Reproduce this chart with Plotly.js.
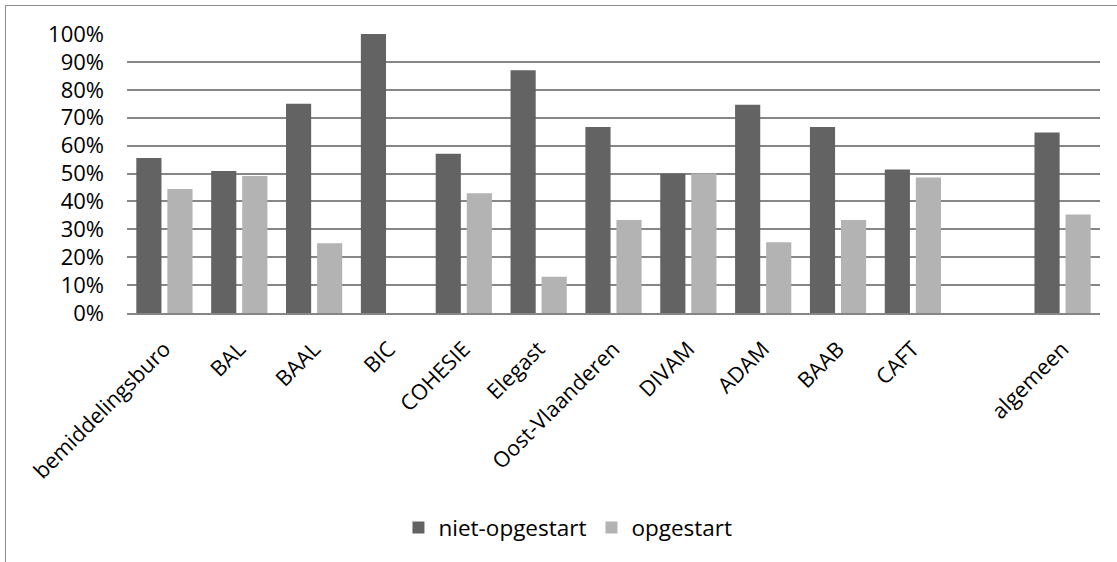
<!DOCTYPE html>
<html>
<head>
<meta charset="utf-8">
<script src="https://cdn.plot.ly/plotly-3.0.1.min.js"></script>
<style>
  html, body { margin: 0; padding: 0; background: #fff; overflow: hidden; }
  #frame { position: absolute; left: 5px; top: 5px; width: 1200px; height: 700px;
           border-left: 1.5px solid #8c8c8c; border-top: 1.5px solid #8c8c8c; }
  #chart { position: absolute; left: 0; top: 0; width: 1117px; height: 562px; }
</style>
</head>
<body>
<div id="frame"></div>
<div id="chart"></div>
<script>
const categories = ["bemiddelingsburo", "BAL", "BAAL", "BIC", "COHESIE", "Elegast",
  "Oost-Vlaanderen", "DIVAM", "ADAM", "BAAB", "CAFT", " ", "algemeen"];
const nietOpgestart = [0.556, 0.509, 0.75, 1.0, 0.571, 0.87, 0.667, 0.50, 0.746, 0.667, 0.514, null, 0.647];
const opgestart = [0.444, 0.491, 0.25, 0.0, 0.429, 0.13, 0.333, 0.50, 0.254, 0.333, 0.486, null, 0.353];
const seriesNames = ["niet-opgestart", "opgestart"];
const yTicks = [0, 0.1, 0.2, 0.3, 0.4, 0.5, 0.6, 0.7, 0.8, 0.9, 1.0];
const yTickLabels = ["0%", "10%", "20%", "30%", "40%", "50%", "60%", "70%", "80%", "90%", "100%"];

const font = "Open Sans, Lato, sans-serif";

const traces = [
  { type: "bar", name: seriesNames[0], x: categories, y: nietOpgestart,
    marker: { color: "#636363" }, hoverinfo: "skip" },
  { type: "bar", name: seriesNames[1], x: categories, y: opgestart,
    marker: { color: "#b3b3b3" }, hoverinfo: "skip" }
];

const layout = {
  width: 1117, height: 562,
  margin: { l: 127, r: 17, t: 34, b: 249 },
  paper_bgcolor: "rgba(0,0,0,0)",
  plot_bgcolor: "rgba(0,0,0,0)",
  barmode: "group",
  bargap: 0.17,
  bargroupgap: 0.19,
  showlegend: true,
  legend: { orientation: "h", x: 0.279, xanchor: "left", y: -0.77, yanchor: "middle",
            font: { family: font, size: 22.5, color: "#000" }, itemwidth: 30,
            traceorder: "normal" },
  font: { family: font, size: 22, color: "#000" },
  xaxis: {
    type: "category", categoryorder: "array", categoryarray: categories,
    tickangle: -45, ticks: "", showgrid: false, zeroline: false,
    showline: true, linecolor: "#868686", linewidth: 2,
    ticklabelstandoff: 13,
    tickfont: { family: font, size: 21.5, color: "#000" }, automargin: false
  },
  yaxis: {
    range: [0, 1.0], tickvals: yTicks, ticktext: yTickLabels,
    showgrid: true, gridcolor: "#868686", gridwidth: 2,
    zeroline: false, showline: false, ticks: "",
    ticklabelstandoff: 22,
    tickfont: { family: font, size: 22, color: "#000" }, automargin: false
  }
};

Plotly.newPlot("chart", traces, layout, { staticPlot: true, displayModeBar: false });
</script>
</body>
</html>
